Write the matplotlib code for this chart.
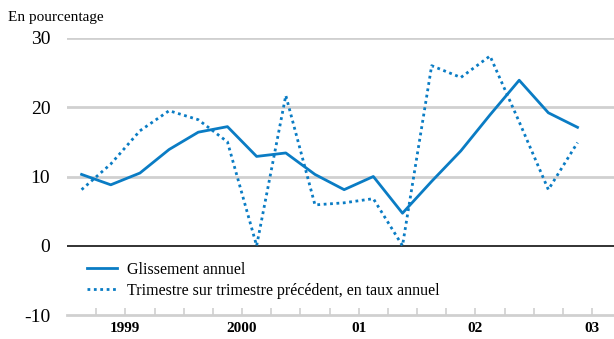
import numpy as np
from matplotlib import pyplot as plt

plt.rcParams['font.family'] = ['Liberation Serif', 'DejaVu Serif']

# Quarterly values, 1999 Q1 to 2003 Q2.
glissement = [10.3, 8.8, 10.5, 13.9, 16.4, 17.2, 12.9, 13.4, 10.3, 8.1,
              10.0, 4.7, 9.3, 13.7, 18.9, 23.9, 19.2, 17.1]
trimestre = [8.1, 11.8, 16.6, 19.5, 18.2, 15.0, 0.0, 21.7, 5.9, 6.2,
             6.8, 0.0, 26.0, 24.3, 27.4, 17.9, 8.1, 14.9]
year_labels = ['1999', '2000', '01', '02', '03']

blue = '#0a7cc4'
grey = '#d0d0d0'

fig = plt.figure(figsize=(6.14, 3.39), dpi=100)
ax = fig.add_axes([67/614, 1 - 315/339, 1 - 67/614, (315 - 38)/339])

x = np.arange(len(glissement))
for v in [10, 20, 30]:
	ax.axhline(v, color=grey, lw=2, zorder=1)
ax.axhline(0, color='#222222', lw=1.3, zorder=1)

ax.plot(x, glissement, color=blue, lw=2.0, label='Glissement annuel', zorder=3)
ax.plot(x, trimestre, color=blue, lw=2.0, ls=(0, (1, 1.3)),
	label='Trimestre sur trimestre précédent, en taux annuel', zorder=3)

ax.set_xlim(-0.5, 18.25)
ax.set_ylim(-10, 30)
ax.set_yticks([-10, 0, 10, 20, 30])
ax.set_yticklabels(['-10', '0', '10', '20', '30'], fontsize=14)
ax.tick_params(axis='y', length=0, pad=12)

ticks = np.arange(0.5, 18, 1)
ax.set_xticks(ticks)
labels = [''] * len(ticks)
for k, lab in enumerate(year_labels):
	labels[1 + 4*k] = lab
ax.set_xticklabels(labels, fontsize=11, fontweight='bold')
ax.tick_params(axis='x', direction='in', length=5, width=1.2, color=grey, pad=5)

for s in ['top', 'right', 'left']:
	ax.spines[s].set_visible(False)
ax.spines['bottom'].set_color(grey)
ax.spines['bottom'].set_linewidth(2)

ax.legend(loc='upper left', bbox_to_anchor=(0.025, 0.215), frameon=False,
	fontsize=11.5, handlelength=1.9, handletextpad=0.6, labelspacing=0.3,
	borderaxespad=0)

fig.text(8/614, 1 - 17/339, 'En pourcentage', fontsize=11, va='center', ha='left')

fig.savefig('out.png', dpi=100)
